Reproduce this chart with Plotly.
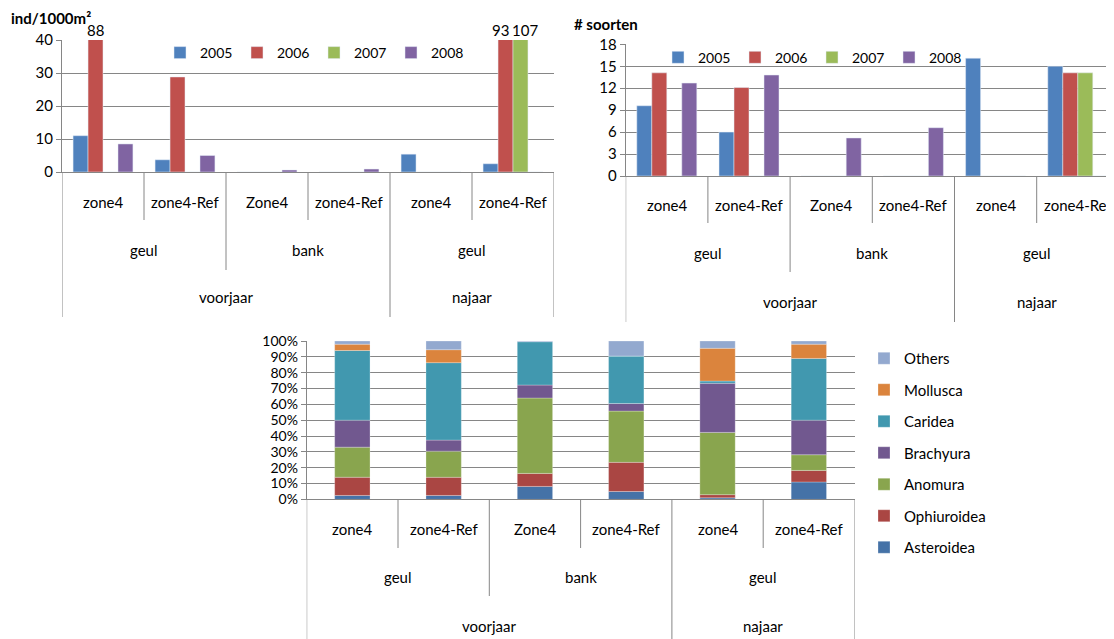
import plotly.graph_objects as go

# ---------------- data ----------------
zones = ["zone4", "zone4-Ref", "Zone4", "zone4-Ref", "zone4", "zone4-Ref"]
habitat = ["geul", "geul", "bank", "bank", "geul", "geul"]
season = ["voorjaar", "voorjaar", "voorjaar", "voorjaar", "najaar", "najaar"]

years = ["2005", "2006", "2007", "2008"]
dens_2005 = [11.0, 3.7, 0, 0, 5.4, 2.5]
dens_2006 = [88, 28.8, 0, 0, 0, 93]
dens_2007 = [0, 0, 0, 0, 0, 107]
dens_2008 = [8.5, 5.0, 0.6, 0.9, 0, 0]

soort_2005 = [9.6, 6.0, 0, 0, 16.1, 15.0]
soort_2006 = [14.1, 12.1, 0, 0, 0, 14.1]
soort_2007 = [0, 0, 0, 0, 0, 14.1]
soort_2008 = [12.7, 13.8, 5.2, 6.6, 0, 0]

taxa = ["Asteroidea", "Ophiuroidea", "Anomura", "Brachyura", "Caridea", "Mollusca", "Others"]
asteroidea = [2.5, 2.5, 8.2, 5.0, 1.0, 11.0]
ophiuroidea = [11.5, 11.5, 8.2, 18.4, 2.0, 7.3]
anomura = [19.0, 16.5, 47.6, 32.4, 39.3, 9.9]
brachyura = [17.0, 7.0, 8.2, 4.8, 31.0, 21.8]
caridea = [44.0, 49.0, 27.4, 30.0, 1.4, 39.0]
mollusca = [4.0, 8.2, 0, 0, 20.7, 9.0]
others = [2.0, 5.5, 0.4, 9.5, 4.6, 2.0]

dens_ymax = 40
soort_ymax = 18

# ---------------- style ----------------
OFF = 8                      # page body margin
W, H = 1114 - OFF, 639 - OFF
FONT = "Lato"
year_colors = ["#4F81BD", "#C0504D", "#9BBB59", "#8064A2"]
taxa_colors = ["#4572A7", "#AA4643", "#89A54E", "#71588F", "#4198AF", "#DB843D", "#93A9CF"]
GRID = "#868686"


def px(x):
    return (x - OFF) / W


def py(y):
    return 1 - (y - OFF) / H


fig = go.Figure()
n = len(zones)
idx = list(range(n))
bw = 0.1825

# ---- top-left: density ----
dens = [dens_2005, dens_2006, dens_2007, dens_2008]
for k, (yr, vals) in enumerate(zip(years, dens)):
    fig.add_trace(go.Bar(
        x=idx, y=vals, name=yr, marker_color=year_colors[k],
        width=bw, offset=-2 * bw + k * bw,
        xaxis="x", yaxis="y", legend="legend",
    ))

# ---- top-right: species ----
soort = [soort_2005, soort_2006, soort_2007, soort_2008]
for k, (yr, vals) in enumerate(zip(years, soort)):
    fig.add_trace(go.Bar(
        x=idx, y=vals, name=yr, marker_color=year_colors[k],
        width=bw, offset=-2 * bw + k * bw,
        xaxis="x2", yaxis="y2", legend="legend3",
    ))

# ---- bottom: 100% stacked ----
comp = [asteroidea, ophiuroidea, anomura, brachyura, caridea, mollusca, others]
totals = [sum(c[i] for c in comp) for i in idx]
base = [0.0] * n
for k, (name, vals) in enumerate(zip(taxa, comp)):
    pct = [100 * v / t for v, t in zip(vals, totals)]
    fig.add_trace(go.Bar(
        x=idx, y=pct, base=list(base), name=name, marker_color=taxa_colors[k],
        marker_line=dict(color="rgba(255,255,255,0.45)", width=0.6),
        width=0.387, offset=-0.1935,
        xaxis="x3", yaxis="y3", legend="legend2", legendgroup=name,
        legendrank=100 - k,
    ))
    base = [b + p for b, p in zip(base, pct)]

# ---------------- axes ----------------
panels = [
    # xaxis, yaxis, left px, right px, top px, bottom px, category width px, depths, label ys
    ("x", "y", 62, 554, 40, 172, 82.0, (220, 270, 317), (202, 250, 297)),
    ("x2", "y2", 625.7, 1114, 44.3, 176, 82.2, (223, 272, 322), (205, 253, 302)),
    ("x3", "y3", 306.7, 854.5, 341, 499.4, 91.3, (548, 596, 660), (529, 577, 626)),
]

yaxis_common = dict(showline=True, linecolor=GRID, linewidth=1, ticks="outside",
                    ticklen=5, tickcolor=GRID, showgrid=True, gridcolor=GRID,
                    gridwidth=1, zeroline=False, automargin=False,
                    tickfont=dict(family=FONT, size=15, color="#000"))
xaxis_common = dict(showline=True, linecolor=GRID, linewidth=1, ticks="",
                    showticklabels=False, showgrid=False, zeroline=False, automargin=False)

layout = dict(
    width=W, height=H, margin=dict(l=0, r=0, t=0, b=0, autoexpand=False),
    paper_bgcolor="white", plot_bgcolor="white", barmode="overlay",
    font=dict(family=FONT, size=15, color="#000"),
    shapes=[], annotations=[],
)

yranges = {"y": [0, dens_ymax], "y2": [0, soort_ymax], "y3": [0, 100]}
ydticks = {"y": 10, "y2": 3, "y3": 10}


def runs(keys):
    out = []
    start = 0
    for i in range(1, n + 1):
        if i == n or keys[i] != keys[start]:
            out.append((start, i - 1))
            start = i
    return out


hab_runs = runs([s + "|" + h for s, h in zip(season, habitat)])
sea_runs = runs(season)

for xa, ya, x0, x1, ytop, ybot, cw, depths, lys in panels:
    xkey = "xaxis" + xa[1:]
    ykey = "yaxis" + ya[1:]
    dom_r = min(1.0, px(x1))
    xr = [-0.5, -0.5 + (min(x1, 1114) - x0) / cw]
    layout[xkey] = dict(xaxis_common, domain=[px(x0), dom_r], range=xr,
                        anchor=ya, fixedrange=True)
    yax = dict(yaxis_common, domain=[py(ybot), py(ytop)], range=yranges[ya],
               dtick=ydticks[ya], tick0=0, anchor=xa, fixedrange=True)
    if ya == "y3":
        yax["ticksuffix"] = "%"
        yax["tickfont"] = dict(family=FONT, size=14, color="#000")
    layout[ykey] = yax

    lab = dict(xref=xa, yref="paper", showarrow=False, xanchor="center", yanchor="middle",
               font=dict(family=FONT, size=15, color="#000"))
    zone_d, hab_d, full_d = depths
    for i in idx:
        layout["annotations"].append(dict(lab, x=i, y=py(lys[0]), text=zones[i]))
    for a, b in hab_runs:
        layout["annotations"].append(dict(lab, x=(a + b) / 2, y=py(lys[1]), text=habitat[a]))
    for a, b in sea_runs:
        layout["annotations"].append(dict(lab, x=(a + b) / 2, y=py(lys[2]), text=season[a]))
    # separators
    sea_bounds = {b + 0.5 for a, b in sea_runs} | {-0.5}
    hab_bounds = {b + 0.5 for a, b in hab_runs}
    for j in range(-1, n):
        xb = j + 0.5
        if xb in sea_bounds:
            d = full_d
        elif xb in hab_bounds:
            d = hab_d
        else:
            d = zone_d
        layout["shapes"].append(dict(
            type="line", xref=xa, yref="paper", x0=xb, x1=xb,
            y0=py(ybot), y1=max(0.0, py(d)), line=dict(color=GRID, width=1)))

# values beyond the axis maximum (top-left)
for i in idx:
    over = [(k, vals[i]) for k, vals in enumerate(dens) if vals[i] > dens_ymax]
    for j, (k, v) in enumerate(over):
        spread = (j - (len(over) - 1) / 2) * 10
        layout["annotations"].append(dict(
            x=i - 2 * bw + (k + 0.5) * bw, y=dens_ymax, xref="x", yref="y",
            text=str(v), showarrow=False, xanchor="center", yanchor="bottom",
            xshift=spread, yshift=-1,
            font=dict(family=FONT, size=15, color="#000")))

# axis titles
ttl = dict(xref="paper", yref="paper", xanchor="left", yanchor="middle", showarrow=False,
           font=dict(family=FONT, size=15, color="#000"))
layout["annotations"].append(dict(ttl, x=px(9), y=py(18), text="<b>ind/1000m²</b>"))
layout["annotations"].append(dict(ttl, x=px(572), y=py(24), text="<b># soorten</b>"))

# legends
legfont = dict(family=FONT, size=14, color="#000")
legh = dict(orientation="h", xanchor="left", yanchor="middle", font=legfont,
            bgcolor="rgba(0,0,0,0)", itemwidth=30, entrywidth=32,
            entrywidthmode="pixels", itemclick=False, itemdoubleclick=False)
layout["legend"] = dict(legh, x=px(160), y=py(53))
layout["legend3"] = dict(legh, x=px(658), y=py(57.7))
layout["legend2"] = dict(orientation="v", x=px(864), y=py(342), xanchor="left", yanchor="top",
                         font=dict(family=FONT, size=15, color="#000"),
                         bgcolor="rgba(0,0,0,0)", itemwidth=30,
                         tracegroupgap=9, itemclick=False, itemdoubleclick=False)

fig.update_layout(**layout)
fig.write_html("out.html")
